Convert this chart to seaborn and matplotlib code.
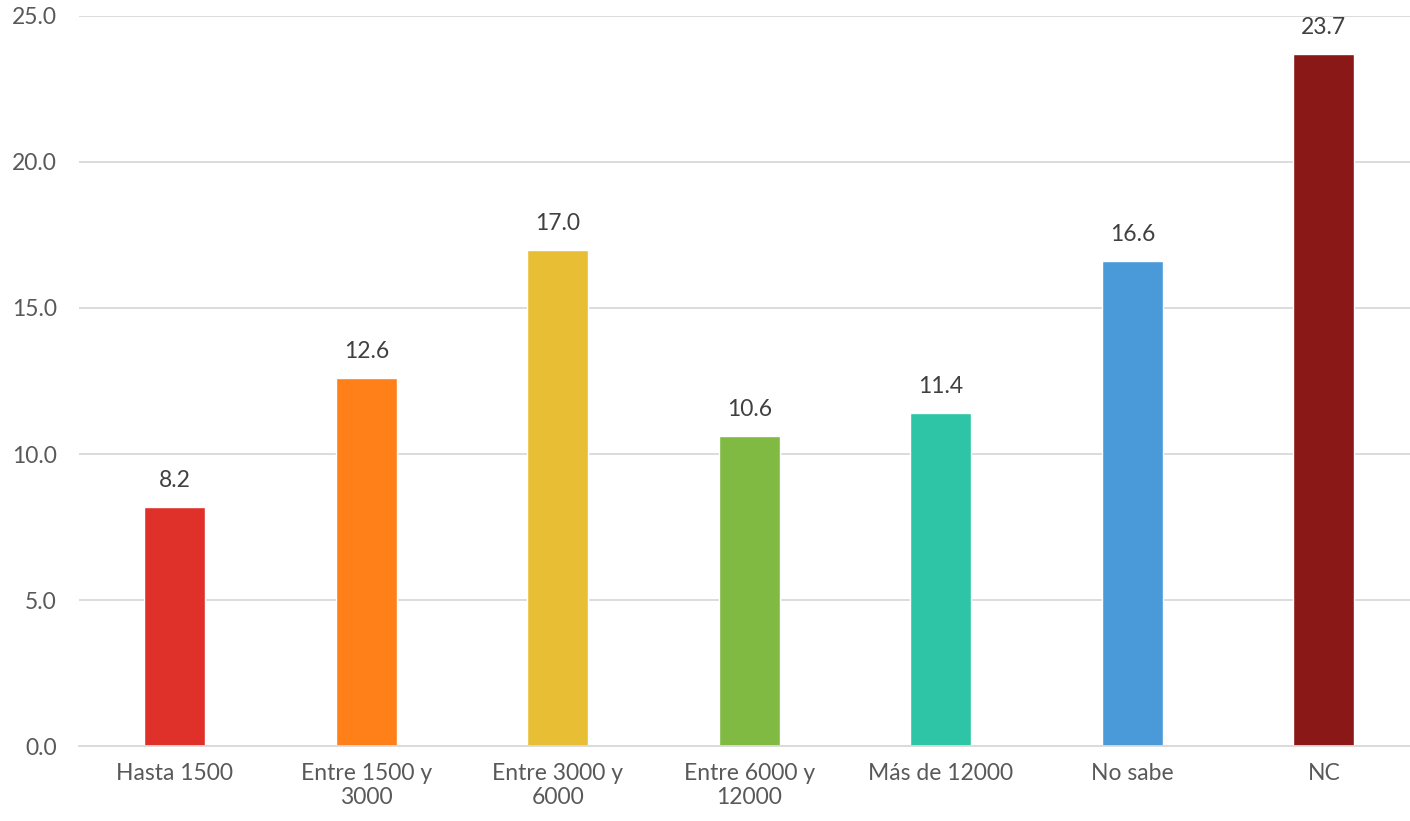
import matplotlib
matplotlib.use("Agg")
import matplotlib.pyplot as plt
import seaborn as sns
import pandas as pd

categories = ["Hasta 1500", "Entre 1500 y\n3000", "Entre 3000 y\n6000", "Entre 6000 y\n12000",
              "Más de 12000", "No sabe", "NC"]
values = [8.2, 12.6, 17.0, 10.6, 11.4, 16.6, 23.7]
colors = ["#E0302A", "#FF8019", "#E8BE35", "#80BA42", "#2EC4A6", "#4A9ADA", "#8A1816"]


def main():
    df = pd.DataFrame({"cat": categories, "val": values})

    sns.set_style("white")
    plt.rcParams["font.family"] = ["Lato", "DejaVu Sans"]

    fig = plt.figure(figsize=(14.1, 8.21), dpi=100)
    ax = fig.add_axes([79 / 1410, 75 / 821, 1 - 79 / 1410, 730 / 821])

    sns.barplot(data=df, x="cat", y="val", hue="cat", palette=colors,
                width=0.32, legend=False, ax=ax, saturation=1)

    ax.set_ylim(0, 25)
    ax.set_xlim(-0.5, 6.45)
    ax.set_yticks([0, 5, 10, 15, 20, 25])
    ax.set_yticklabels([f"{v:.1f}" for v in [0, 5, 10, 15, 20, 25]])
    ax.yaxis.grid(True, color="#d9d9d9", linewidth=1.3)
    ax.set_axisbelow(True)
    ax.set(xlabel=None, ylabel=None)
    sns.despine(ax=ax, top=True, right=True, left=True, bottom=False)
    ax.spines["bottom"].set_color("#d9d9d9")
    ax.spines["bottom"].set_linewidth(1.3)
    ax.tick_params(axis="both", length=0, labelsize=16.5, colors="#595959")
    ax.tick_params(axis="y", pad=16)
    ax.tick_params(axis="x", pad=12)

    for i, v in enumerate(values):
        ax.text(i, v + 0.55, f"{v:.1f}", ha="center", va="bottom",
                fontsize=16.5, color="#404040")

    fig.savefig("out.png", dpi=100)


if __name__ == "__main__":
    main()
